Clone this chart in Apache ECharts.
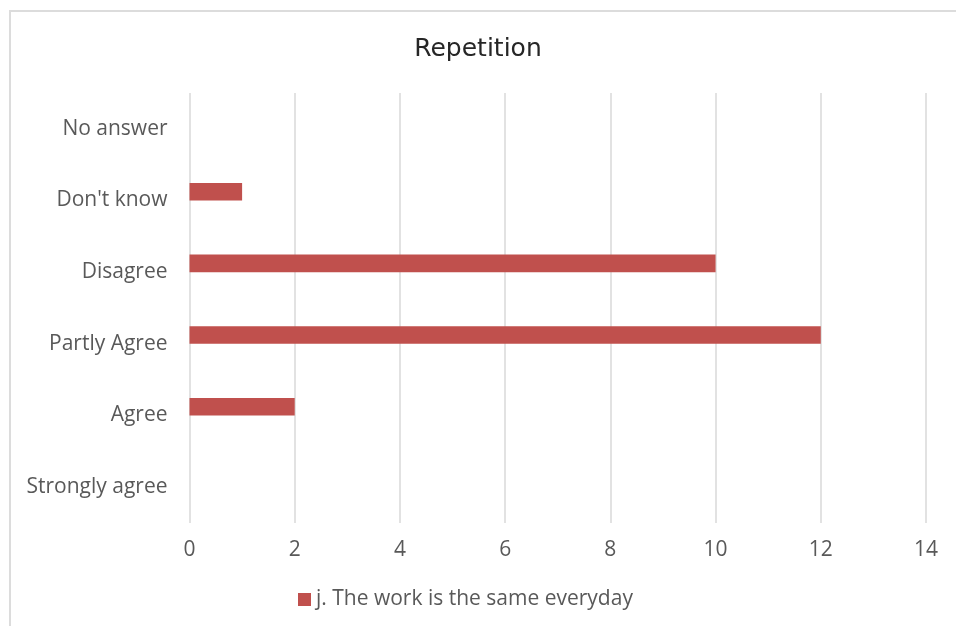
<!DOCTYPE html>
<html>
<head>
<meta charset="utf-8">
<script src="https://cdn.jsdelivr.net/npm/echarts@6/dist/echarts.min.js"></script>
<style>
  html, body { margin: 0; padding: 0; background: #fff; }
  #frame { position: absolute; left: 9px; top: 10px; width: 947px; height: 616px;
           border-left: 2px solid #dcdcdc; border-top: 2px solid #dcdcdc; box-sizing: border-box; }
  #chart { width: 956px; height: 626px; position: absolute; left: 0; top: 0; }
</style>
</head>
<body>
<div id="frame"></div>
<div id="chart"></div>
<script>
// Answer categories, listed bottom to top as the category axis draws them
const categories = ['Strongly agree', 'Agree', 'Partly Agree', 'Disagree', "Don't know", 'No answer'];
// Number of responses per answer
const responses = [0, 2, 12, 10, 1, 0];
// Companion slot that stays empty in every category
const emptySlot = ['-', '-', '-', '-', '-', '-'];
const seriesName = 'j. The work is the same everyday';
const xTicks = [0, 2, 4, 6, 8, 10, 12, 14];

const chart = echarts.init(document.getElementById('chart'));
const font = '"Open Sans", sans-serif';
chart.setOption({
  animation: false,
  title: {
    text: 'Repetition',
    left: 'center',
    top: 32,
    textStyle: { fontFamily: '"DejaVu Sans", sans-serif', fontSize: 25, fontWeight: 'normal', color: '#262626' }
  },
  grid: { left: 189.5, right: 30, top: 93, bottom: 103 },
  xAxis: {
    type: 'value',
    min: xTicks[0],
    max: xTicks[xTicks.length - 1],
    interval: 2,
    axisLine: { show: false },
    axisTick: { show: false },
    axisLabel: { margin: 17, fontFamily: font, fontSize: 21, color: '#595959' },
    splitLine: { lineStyle: { color: '#d9d9d9', width: 1.5 } }
  },
  yAxis: {
    type: 'category',
    data: categories,
    axisLine: { show: false },
    axisTick: { show: false },
    axisLabel: { margin: 22, fontFamily: font, fontSize: 21, color: '#595959' },
    splitLine: { show: false }
  },
  legend: {
    data: [seriesName],
    bottom: 11,
    left: 293,
    itemWidth: 13,
    itemHeight: 13,
    icon: 'rect',
    itemGap: 6,
    textStyle: { fontFamily: font, fontSize: 21, color: '#595959' }
  },
  series: [
    {
      name: seriesName,
      type: 'bar',
      data: responses,
      barWidth: 17.6,
      barGap: '0%',
      itemStyle: { color: '#c0504d' }
    },
    {
      name: 'empty',
      type: 'bar',
      data: emptySlot,
      barWidth: 17.6,
      barGap: '0%'
    }
  ]
});
</script>
</body>
</html>
